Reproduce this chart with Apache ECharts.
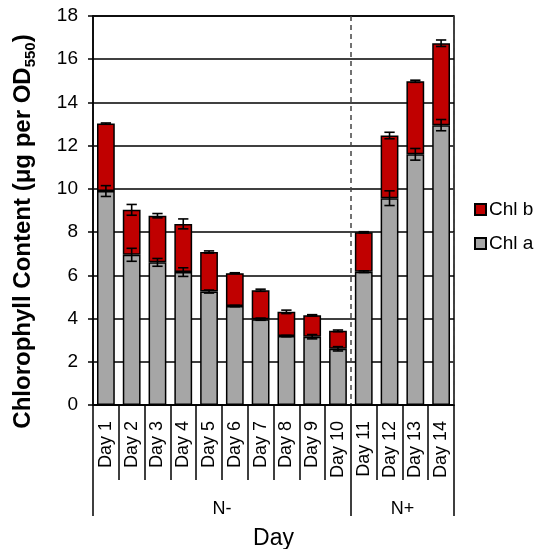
<!DOCTYPE html>
<html>
<head>
<meta charset="utf-8">
<script src="https://cdn.jsdelivr.net/npm/echarts@6/dist/echarts.min.js"></script>
<style>html,body{margin:0;padding:0;background:#fff}#c{width:537px;height:549px}</style>
</head>
<body>
<div id="c"></div>
<script>
const categories = ['Day 1','Day 2','Day 3','Day 4','Day 5','Day 6','Day 7','Day 8','Day 9','Day 10','Day 11','Day 12','Day 13','Day 14'];
const chlA = [9.9, 6.95, 6.6, 6.15, 5.25, 4.58, 3.97, 3.19, 3.16, 2.6, 6.17, 9.57, 11.6, 12.95];
const chlB = [3.12, 2.08, 2.16, 2.23, 1.83, 1.52, 1.34, 1.12, 0.99, 0.83, 1.82, 2.9, 3.38, 3.79];
const chlAErr = [0.25, 0.3, 0.18, 0.2, 0.07, 0.03, 0.05, 0.03, 0.1, 0.1, 0.04, 0.34, 0.27, 0.26];
const totalErr = [0.03, 0.25, 0.1, 0.23, 0.05, 0.02, 0.05, 0.08, 0.03, 0.04, 0.03, 0.15, 0.05, 0.15];
const groupLabels = ['N-', 'N+'];
const groupSizes = [10, 4];

const FONT = '"Liberation Sans", Arial, sans-serif';
const bounds = [0];
groupSizes.forEach(s => bounds.push(bounds[bounds.length - 1] + s));
const centers = groupSizes.map((s, i) => bounds[i] + s / 2);

const errA = chlA.map((v, i) => [i, v, chlAErr[i]]);
const errT = chlA.map((v, i) => [i, v + chlB[i], totalErr[i]]);

function renderErr(params, api) {
  const c = api.value(0), m = api.value(1), e = api.value(2);
  const x = api.coord([c, m])[0];
  const yl = api.coord([c, m - e])[1];
  const yh = api.coord([c, m + e])[1];
  const hw = api.size([1, 0])[0] * 0.2;
  const st = { stroke: '#000', lineWidth: 1.6 };
  return {
    type: 'group',
    children: [
      { type: 'line', shape: { x1: x, y1: yl, x2: x, y2: yh }, style: st },
      { type: 'line', shape: { x1: x - hw, y1: yh, x2: x + hw, y2: yh }, style: st },
      { type: 'line', shape: { x1: x - hw, y1: yl, x2: x + hw, y2: yl }, style: st }
    ]
  };
}

const chart = echarts.init(document.getElementById('c'));
chart.setOption({
  animation: false,
  backgroundColor: '#fff',
  textStyle: { fontFamily: FONT, color: '#000' },
  grid: { left: 93, right: 83, top: 16, bottom: 144, outerBoundsMode: 'none', containLabel: false,
    show: true, borderColor: '#000', borderWidth: 1.5, backgroundColor: 'transparent' },
  legend: {
    orient: 'vertical', left: 469, top: 195, itemGap: 15,
    itemWidth: 11, itemHeight: 11, icon: 'rect',
    data: ['Chl b', 'Chl a'],
    textStyle: { fontSize: 19, color: '#000', fontFamily: FONT, padding: [0, 0, 0, -2] }
  },
  xAxis: [{
    type: 'category', data: categories, position: 'bottom',
    axisLine: { lineStyle: { color: '#000', width: 1.5 } },
    axisTick: { show: true, alignWithLabel: false, interval: 0, length: 75, lineStyle: { color: '#000', width: 1.5 } },
    axisLabel: { rotate: 90, fontSize: 18, color: '#000', margin: 16, interval: 0, fontFamily: FONT },
    name: 'Day', nameLocation: 'middle', nameGap: 122,
    nameTextStyle: { fontSize: 23, color: '#000', fontFamily: FONT }
  }, {
    type: 'value', min: 0, max: bounds[bounds.length - 1], interval: groupSizes[0], position: 'bottom',
    axisLine: { show: false },
    axisTick: { show: true, customValues: bounds, length: 111, inside: false, lineStyle: { color: '#000', width: 1.5 } },
    axisLabel: {
      show: true, customValues: centers, margin: 95, fontSize: 18, color: '#000', fontFamily: FONT,
      formatter: v => { const i = centers.indexOf(v); return i >= 0 ? groupLabels[i] : ''; }
    },
    splitLine: { show: true, lineStyle: { color: '#444', type: [5, 4], width: 1.5 } }
  }],
  yAxis: {
    type: 'value', min: 0, max: 18, interval: 2,
    axisLine: { show: true, lineStyle: { color: '#000', width: 1.5 } },
    axisTick: { show: true, length: 5, lineStyle: { color: '#000', width: 1.5 } },
    axisLabel: { fontSize: 19, color: '#000', margin: 15, fontFamily: FONT },
    splitLine: { show: true, lineStyle: { color: '#000', width: 1.5 } },
    name: '{a|Chlorophyll Content (μg per OD}{s|550}{a|)}',
    nameLocation: 'middle', nameGap: 55,
    nameTextStyle: {
      padding: [0, 42, 0, 0],
      rich: {
        a: { fontSize: 24, fontWeight: 'bold', color: '#000', fontFamily: FONT, lineHeight: 30, verticalAlign: 'middle' },
        s: { fontSize: 15, fontWeight: 'bold', color: '#000', fontFamily: FONT, lineHeight: 30, verticalAlign: 'bottom', padding: [12, 0, 0, 0] }
      }
    }
  },
  series: [
    { name: 'Chl a', type: 'bar', stack: 't', data: chlA, barWidth: '69%',
      itemStyle: { color: '#a6a6a6', borderColor: '#000', borderWidth: 1.5 } },
    { name: 'Chl b', type: 'bar', stack: 't', data: chlB, barWidth: '69%',
      itemStyle: { color: '#c00000', borderColor: '#000', borderWidth: 1.5 } },
    { type: 'custom', renderItem: renderErr, data: errA, z: 5, silent: true,
      encode: { x: 0, y: 1 } },
    { type: 'custom', renderItem: renderErr, data: errT, z: 5, silent: true,
      encode: { x: 0, y: 1 } }
  ]
});
</script>
</body>
</html>
